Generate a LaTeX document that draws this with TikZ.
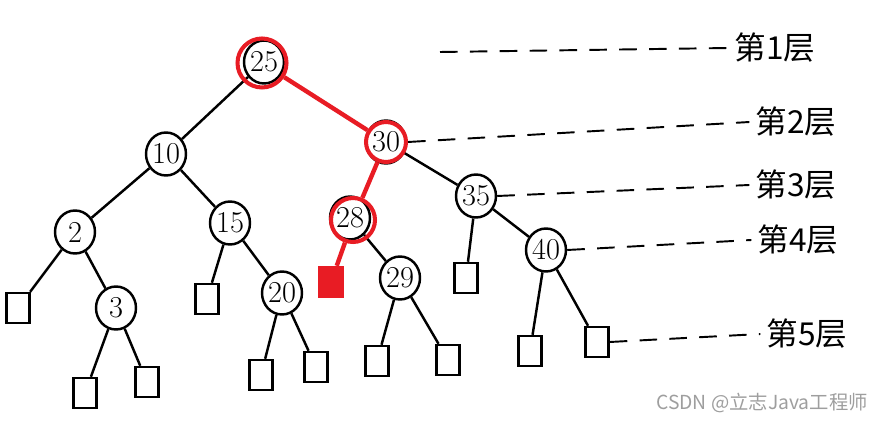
\documentclass[tikz,border=0pt]{standalone}
\usepackage{fontspec}
\usepackage{tikz}
\usetikzlibrary{shapes.geometric}
\newfontfamily\cjk{Noto Sans CJK SC}
\definecolor{markred}{RGB}{232,28,36}

\begin{document}
\begin{tikzpicture}[x=0.02cm,y=-0.02cm,
    keynode/.style={draw,ellipse,line width=1.4pt,inner sep=0pt,minimum width=0.8cm,minimum height=0.86cm,font=\LARGE},
    leafbox/.style={draw,rectangle,line width=1.4pt,minimum width=0.46cm,minimum height=0.6cm},
    redring/.style={draw=markred,circle,line width=2.3pt,inner sep=0pt},
    treeline/.style={line width=1.4pt},
    redline/.style={draw=markred,line width=2.5pt},
    layertext/.style={font=\cjk\fontsize{18}{20}\selectfont},
    layerdash/.style={line width=1.1pt,dash pattern=on 10pt off 7pt}]
        \useasboundingbox (0,0) rectangle (883,422);
        % keys
        \draw (264,62) node (n25) [keynode] {25};
        \draw (166,154) node (n10) [keynode] {10};
        \draw (386,142) node (n30) [keynode] {30};
        \draw (75,232) node (n2) [keynode] {2};
        \draw (230,223) node (n15) [keynode] {15};
        \draw (350,218) node (n28) [keynode] {28};
        \draw (476,196) node (n35) [keynode] {35};
        \draw (116,308) node (n3) [keynode] {3};
        \draw (282,293) node (n20) [keynode] {20};
        \draw (400,278) node (n29) [keynode] {29};
        \draw (546,250) node (n40) [keynode] {40};
        % empty leaves
        \draw (18,308) node (e1) [leafbox] {};
        \draw (85,393) node (e2) [leafbox] {};
        \draw (147,382) node (e3) [leafbox] {};
        \draw (207,299) node (e4) [leafbox] {};
        \draw (261,375) node (e5) [leafbox] {};
        \draw (316,367) node (e6) [leafbox] {};
        \draw (331,282) node (hit) [leafbox,fill=markred,draw=markred] {};
        \draw (377,361) node (e7) [leafbox] {};
        \draw (448,360) node (e8) [leafbox] {};
        \draw (466,278) node (e9) [leafbox] {};
        \draw (530,351) node (e10) [leafbox] {};
        \draw (597,342) node (e11) [leafbox] {};
        % black edges
        \draw[treeline] (n25) -- (n10);
        \draw[treeline] (n10) -- (n2);
        \draw[treeline] (n10) -- (n15);
        \draw[treeline] (n30) -- (n35);
        \draw[treeline] (n2) -- (e1);
        \draw[treeline] (n2) -- (n3);
        \draw[treeline] (n3) -- (e2);
        \draw[treeline] (n3) -- (e3);
        \draw[treeline] (n15) -- (e4);
        \draw[treeline] (n15) -- (n20);
        \draw[treeline] (n20) -- (e5);
        \draw[treeline] (n20) -- (e6);
        \draw[treeline] (n28) -- (n29);
        \draw[treeline] (n29) -- (e7);
        \draw[treeline] (n29) -- (e8);
        \draw[treeline] (n35) -- (e9);
        \draw[treeline] (n35) -- (n40);
        \draw[treeline] (n40) -- (e10);
        \draw[treeline] (n40) -- (e11);
        % search path
        \draw (262,63) node (r25) [redring,minimum size=0.98cm] {};
        \draw (386,142) node (r30) [redring,minimum size=0.8cm] {};
        \draw (353,220) node (r28) [redring,minimum size=0.88cm] {};
        \draw[redline] (r25) -- (r30);
        \draw[redline] (r30) -- (r28);
        \draw[redline] (r28) -- (hit);
        % layers
        \draw (775,48) node (L1) [layertext] {第1层};
        \draw (796,122) node (L2) [layertext] {第2层};
        \draw (796,185) node (L3) [layertext] {第3层};
        \draw (798,240) node (L4) [layertext] {第4层};
        \draw (807,334) node (L5) [layertext] {第5层};
        \coordinate (d1) at (440,52);
        \draw[layerdash] (d1) -- (L1.west);
        \draw[layerdash] (r30.east) -- (L2.west);
        \draw[layerdash] (n35.east) -- (L3.west);
        \draw[layerdash] (n40.east) -- (L4.west);
        \draw[layerdash] (e11.east) -- (L5.west);
        \draw (762,403) node (mark) [font=\cjk\fontsize{11}{13}\selectfont,text=black!38] {CSDN @立志Java工程师};
\end{tikzpicture}
\end{document}
